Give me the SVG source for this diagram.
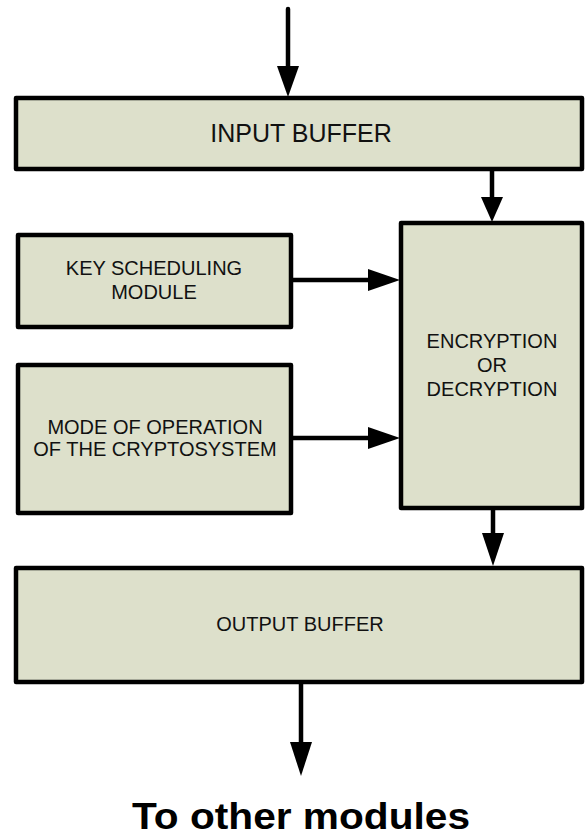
<svg xmlns="http://www.w3.org/2000/svg" width="585" height="838" viewBox="0 0 585 838">
<style>
.box{fill:#dde0cb;stroke:#000;stroke-width:4.5;stroke-linejoin:round}
.t{font-family:"Liberation Sans",Arial,sans-serif;fill:#111;text-anchor:middle;font-size:20px}
.ln{stroke:#000;stroke-width:4.5;stroke-linecap:round;fill:none}
.hd{fill:#000}
</style>
<rect width="585" height="838" fill="#fff"/>
<g id="connectors">
<line class="ln" x1="288" y1="9" x2="288" y2="70"/>
<polygon class="hd" points="277,66 299,66 288,97"/>
<line class="ln" x1="492" y1="170" x2="492" y2="200"/>
<polygon class="hd" points="481,197 503,197 492,222"/>
<line class="ln" x1="291" y1="280" x2="372" y2="280"/>
<polygon class="hd" points="368,269 368,291 400,280"/>
<line class="ln" x1="291" y1="438" x2="372" y2="438"/>
<polygon class="hd" points="368,427 368,449 400,438"/>
<line class="ln" x1="493" y1="508" x2="493" y2="536"/>
<polygon class="hd" points="482,533 504,533 493,566"/>
<line class="ln" x1="301" y1="682" x2="301" y2="746"/>
<polygon class="hd" points="290,742 312,742 301,776"/>
</g>
<g id="input-buffer">
<rect class="box" x="16" y="98" width="566" height="71"/>
<text class="t" x="301" y="142" style="font-size:25px">INPUT BUFFER</text>
</g>
<g id="key-scheduling">
<rect class="box" x="18" y="235" width="273" height="92"/>
<text class="t" x="154" y="275">KEY SCHEDULING</text>
<text class="t" x="154" y="299">MODULE</text>
</g>
<g id="mode-of-operation">
<rect class="box" x="18" y="365" width="273" height="148"/>
<text class="t" x="155" y="434">MODE OF OPERATION</text>
<text class="t" x="155" y="456">OF THE CRYPTOSYSTEM</text>
</g>
<g id="encryption">
<rect class="box" x="401" y="223" width="181" height="285"/>
<text class="t" x="492" y="348">ENCRYPTION</text>
<text class="t" x="492" y="372">OR</text>
<text class="t" x="492" y="396">DECRYPTION</text>
</g>
<g id="output-buffer">
<rect class="box" x="16" y="568" width="566" height="114"/>
<text class="t" x="300" y="631">OUTPUT BUFFER</text>
</g>
<g id="label">
<text class="t" x="301" y="829" textLength="338" lengthAdjust="spacingAndGlyphs" style="font-size:36px;font-weight:bold;fill:#000">To other modules</text>
</g>
</svg>
